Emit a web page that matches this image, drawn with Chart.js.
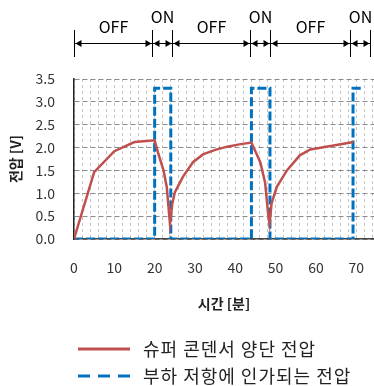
<!DOCTYPE html>
<html>
<head>
<meta charset="utf-8">
<script src="https://cdn.jsdelivr.net/npm/chart.js@4"></script>
<style>body{margin:0;background:#fff}</style>
</head>
<body>
<canvas id="c" width="374" height="386"></canvas>
<script>
// 슈퍼 콘덴서 양단 전압 (분, V)
const superTime = [0, 5, 10, 15, 20, 20.8, 22.2, 23, 23.8, 24.4, 25, 27, 29.5, 32, 35, 38, 41, 44, 46.2, 47.4, 48.2, 48.5, 49, 50.3, 52.8, 56, 58.6, 64, 69.3];
const superVolt = [0, 1.46, 1.92, 2.12, 2.16, 1.9, 1.5, 1.14, 0.33, 0.78, 1.02, 1.36, 1.68, 1.85, 1.95, 2.02, 2.07, 2.11, 1.68, 1.23, 0.5, 0.33, 0.78, 1.14, 1.5, 1.83, 1.96, 2.04, 2.12];
// 부하 저항에 인가되는 전압
const loadTime = [0, 20, 20, 24, 24, 44, 44, 48.6, 48.6, 69.2, 69.2, 71.5];
const loadVolt = [0, 0, 3.3, 3.3, 0, 0, 3.3, 3.3, 0, 0, 3.3, 3.3];
// 상단 OFF/ON 구간
const segBounds = [0, 19.4, 24.3, 43.7, 48.6, 68.5, 73.4];
const segLabels = ['OFF', 'ON', 'OFF', 'ON', 'OFF', 'ON'];
const seriesNames = ['슈퍼 콘덴서 양단 전압', '부하 저항에 인가되는 전압'];

const FONT = '"Noto Sans CJK KR", "Noto Sans", sans-serif';
const RED = '#c0504d';
const BLUE = '#0070c0';

const extras = {
  id: 'extras',
  afterDraw(chart) {
    const ctx = chart.ctx, xs = chart.scales.x;
    ctx.save();
    ctx.strokeStyle = '#000';
    ctx.fillStyle = '#000';
    ctx.lineWidth = 1;
    const px = segBounds.map(v => Math.round(xs.getPixelForValue(v)) + 0.5);
    const ay = 43.5;
    px.forEach(p => {
      ctx.beginPath(); ctx.moveTo(p, 30); ctx.lineTo(p, 57); ctx.stroke();
    });
    ctx.font = '16px ' + FONT;
    ctx.textAlign = 'center';
    ctx.textBaseline = 'middle';
    for (let i = 0; i < px.length - 1; i++) {
      const a = px[i], b = px[i + 1];
      ctx.beginPath(); ctx.moveTo(a, ay); ctx.lineTo(b, ay); ctx.stroke();
      ctx.beginPath(); ctx.moveTo(a + 1, ay); ctx.lineTo(a + 7, ay - 3.5); ctx.lineTo(a + 7, ay + 3.5); ctx.closePath(); ctx.fill();
      ctx.beginPath(); ctx.moveTo(b - 1, ay); ctx.lineTo(b - 7, ay - 3.5); ctx.lineTo(b - 7, ay + 3.5); ctx.closePath(); ctx.fill();
      const lbl = segLabels[i];
      ctx.fillText(lbl, (a + b) / 2, lbl === 'ON' ? 17 : 27);
    }
    // 범례
    ctx.lineWidth = 3;
    ctx.strokeStyle = RED;
    ctx.beginPath(); ctx.moveTo(78, 349); ctx.lineTo(130, 349); ctx.stroke();
    ctx.strokeStyle = BLUE;
    ctx.setLineDash([12, 8]);
    ctx.beginPath(); ctx.moveTo(78, 376); ctx.lineTo(130, 376); ctx.stroke();
    ctx.setLineDash([]);
    ctx.fillStyle = '#222';
    ctx.font = '18px ' + FONT;
    ctx.letterSpacing = '1px';
    ctx.textAlign = 'left';
    ctx.fillText(seriesNames[0], 143, 349);
    ctx.fillText(seriesNames[1], 143, 376);
    ctx.restore();
  }
};

new Chart(document.getElementById('c'), {
  type: 'scatter',
  data: {
    datasets: [{
      label: seriesNames[0],
      data: superTime.map((t, i) => ({x: t, y: superVolt[i]})),
      showLine: true,
      borderColor: RED,
      borderWidth: 2.5,
      pointRadius: 0
    }, {
      label: seriesNames[1],
      data: loadTime.map((t, i) => ({x: t, y: loadVolt[i]})),
      showLine: true,
      borderColor: BLUE,
      borderWidth: 3,
      borderDash: [9, 3],
      pointRadius: 0
    }]
  },
  options: {
    responsive: false,
    animation: false,
    layout: {padding: {top: 79, left: 0, right: 0, bottom: 72}},
    plugins: {legend: {display: false}, tooltip: {enabled: false}},
    scales: {
      x: {
        type: 'linear', min: 0, max: 74.4,
        afterFit: s => { s.height = 75; s.paddingLeft = 0; s.paddingRight = 0; },
        ticks: {
          stepSize: 2, autoSkip: false, maxRotation: 0, includeBounds: false,
          padding: 20, color: '#333', font: {family: FONT, size: 14},
          callback: v => (v % 10 === 0 ? String(v) : '')
        },
        grid: {color: '#c4c4c4', drawTicks: false},
        border: {color: '#444', width: 1.5, dash: [3, 3]},
        title: {display: true, text: '시간 [분]', color: '#222', font: {family: FONT, size: 14, weight: 'bold'}, padding: {top: 0, bottom: 2}}
      },
      y: {
        min: 0, max: 3.5,
        afterFit: s => { s.width = 74; },
        ticks: {
          stepSize: 0.5, padding: 19, color: '#333', font: {family: FONT, size: 14},
          callback: v => v.toFixed(1)
        },
        grid: {color: '#8a8a8a', drawTicks: false},
        border: {color: '#222', width: 1.5, dash: [5, 3]},
        title: {display: true, text: '전압 [V]', color: '#222', font: {family: FONT, size: 14, weight: 'bold'}, padding: {top: 7, bottom: 0}}
      }
    }
  },
  plugins: [extras]
});
</script>
</body>
</html>
